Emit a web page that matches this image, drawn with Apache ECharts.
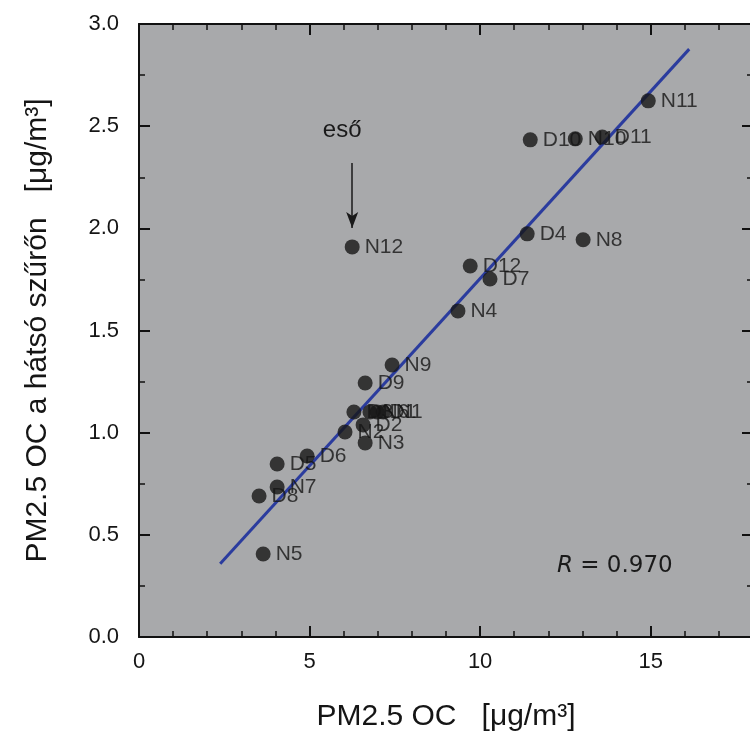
<!DOCTYPE html>
<html>
<head>
<meta charset="utf-8">
<script src="https://cdn.jsdelivr.net/npm/echarts@6/dist/echarts.min.js"></script>
<style>
html,body{margin:0;padding:0;background:#fff;}
#chart{width:750px;height:735px;}
</style>
</head>
<body>
<div id="chart"></div>
<script>
// Sample names
var names = ['N11','D10','N10','D11','N12','D4','N8','D12','D7','N4','N9','D9',
             'D3','N6','D1','N1','D2','N2','N3','D6','D5','N7','D8','N5'];
// PM2.5 OC (x) in µg/m3
var xVals = [14.93,11.47,12.79,13.58,6.25,11.38,13.02,9.71,10.29,9.35,7.42,6.63,
             6.30,6.77,6.98,7.16,6.57,6.04,6.63,4.93,4.05,4.05,3.52,3.64];
// PM2.5 OC on back filter (y) in µg/m3
var yVals = [2.624,2.433,2.438,2.447,1.909,1.973,1.944,1.816,1.752,1.596,1.331,1.243,
             1.101,1.101,1.101,1.101,1.038,1.003,0.950,0.886,0.847,0.734,0.690,0.406];
// Regression line end points
var fitX = [2.38, 16.13];
var fitY = [0.358, 2.877];
// Rain annotation (arrow toward N12)
var rainX = [6.25, 6.25];
var rainY = [2.32, 2.002];
var xTicks = [0, 5, 10, 15];
var yTicks = [0.0, 0.5, 1.0, 1.5, 2.0, 2.5, 3.0];

var pts = names.map(function(n,i){ return {name:n, value:[xVals[i], yVals[i]]}; });
var fit = fitX.map(function(x,i){ return [x, fitY[i]]; });

var chart = echarts.init(document.getElementById('chart'), null, {renderer:'canvas'});
var FONT = 'Liberation Sans, Arial, sans-serif';
var axisLine = {show:true, onZero:false, lineStyle:{color:'#111', width:2}};
var axisTick = {show:true, inside:true, length:11, lineStyle:{color:'#111', width:2}};
function minor(n){ return {show:true, splitNumber:n, length:6, lineStyle:{color:'#111', width:1.5}}; }
var option = {
  animation:false,
  backgroundColor:'#ffffff',
  grid:{left:139, top:24, width:614, height:613, show:true, backgroundColor:'#a8a9ab',
        borderWidth:0, containLabel:false, outerBoundsMode:'none'},
  xAxis:[
    {type:'value', min:0, max:18, interval:5, position:'bottom',
      axisLine:axisLine, axisTick:axisTick, minorTick:minor(5), splitLine:{show:false},
      axisLabel:{fontFamily:FONT, fontSize:22, color:'#151515', margin:14,
        formatter:function(v){ return xTicks.indexOf(v)>=0 ? String(v) : ''; }},
      name:'PM2.5 OC   [μg/m³]', nameLocation:'middle', nameGap:65,
      nameTextStyle:{fontFamily:FONT, fontSize:30, color:'#151515'}
    },
    {type:'value', min:0, max:18, interval:5, position:'top',
      axisLine:axisLine, axisTick:axisTick, minorTick:minor(5), splitLine:{show:false},
      axisLabel:{show:false}
    }
  ],
  yAxis:[
    {type:'value', min:0, max:3, interval:0.5, position:'left',
      axisLine:axisLine, axisTick:axisTick, minorTick:minor(2), splitLine:{show:false},
      axisLabel:{fontFamily:FONT, fontSize:22, color:'#151515', margin:20,
        formatter:function(v){ return v.toFixed(1); }},
      name:'PM2.5 OC a hátsó szűrőn   [μg/m³]', nameLocation:'middle', nameGap:86,
      nameTextStyle:{fontFamily:FONT, fontSize:30, color:'#151515'}
    },
    {type:'value', min:0, max:3, interval:0.5, position:'right',
      axisLine:axisLine, axisTick:axisTick, minorTick:minor(2), splitLine:{show:false},
      axisLabel:{show:false}
    }
  ],
  graphic:[
    {type:'text', left:557, top:555, z:10, style:{
      text:'{i|R} = 0.970', fill:'#1a1a1a', font:'23px DejaVu Sans, sans-serif',
      rich:{i:{fontStyle:'italic', fontFamily:'DejaVu Sans', fontSize:23, fill:'#1a1a1a'}}
    }}
  ],
  series:[
    {
      type:'line', data:fit, showSymbol:false, symbol:'none', z:2,
      lineStyle:{color:'#2b3c9e', width:3},
      markLine:{
        silent:true, symbol:['none','arrow'], symbolSize:[9,16],
        lineStyle:{color:'#1a1a1a', width:1.5, type:'solid'},
        label:{show:false},
        data:[[{coord:[rainX[0], rainY[0]]},{coord:[rainX[1], rainY[1]]}]]
      },
      markPoint:{
        silent:true, symbol:'circle', symbolSize:0,
        label:{show:true, formatter:'eső', fontFamily:FONT, fontSize:24, color:'#1a1a1a', offset:[-10,0]},
        data:[{coord:[6.25, 2.48], value:0}]
      }
    },
    {
      type:'scatter', data:pts, symbol:'circle', symbolSize:15, z:3,
      itemStyle:{color:'#161616'},
      label:{show:true, position:'right', distance:5, formatter:'{b}',
        fontFamily:FONT, fontSize:21, color:'#151515'}
    }
  ]
};
chart.setOption(option);
</script>
</body>
</html>
